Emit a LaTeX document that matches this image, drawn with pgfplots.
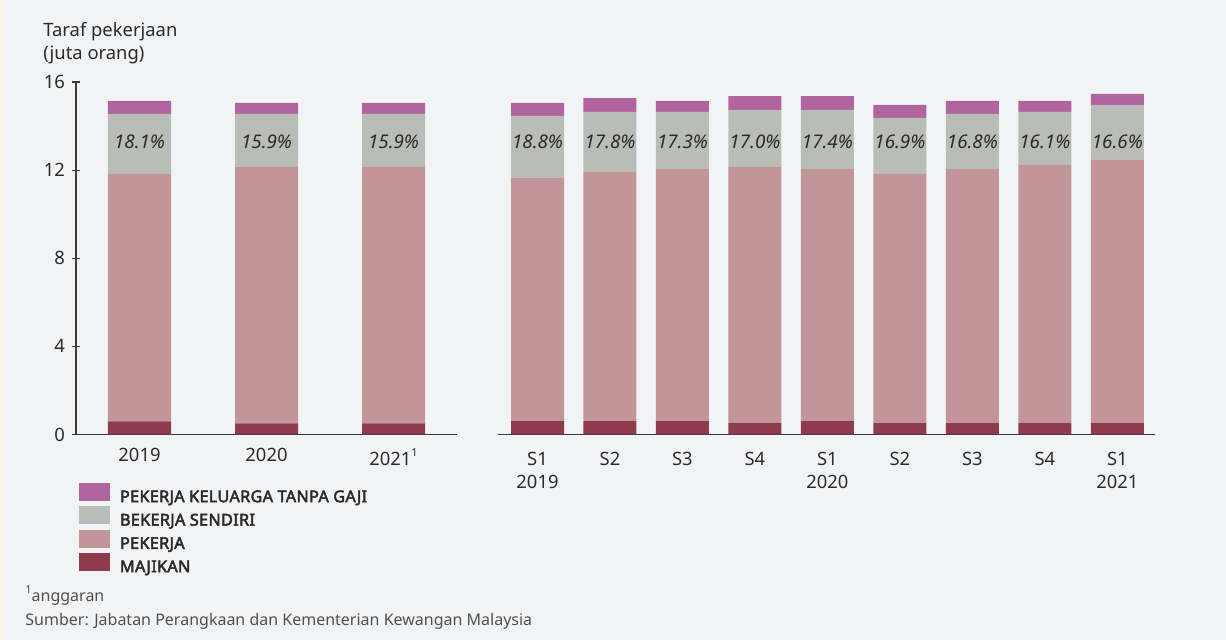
\documentclass[border=0pt]{standalone}
\usepackage{fontspec}
\setmainfont{Noto Sans}
\newfontfamily\legfont{Noto Sans}[FakeBold=3,LetterSpace=2]
\usepackage{pgfplots}
\pgfplotsset{compat=1.18}
\definecolor{bg}{HTML}{F2F3F5}
\definecolor{peach}{HTML}{FCF1EB}
\definecolor{kel}{HTML}{B0659F}
\definecolor{sen}{HTML}{BABCB8}
\definecolor{pek}{HTML}{C29698}
\definecolor{maj}{HTML}{8E3B4E}
\definecolor{txt}{HTML}{2B2B2B}
\definecolor{axl}{HTML}{3A3A3A}
\definecolor{foot}{HTML}{505050}
\tikzset{pct/.style={font=\itshape\fontsize{9.4}{11}\selectfont, text=txt, inner sep=0pt}}
\newcommand{\supn}[1]{\raisebox{0.9ex}{\fontsize{5.5}{6}\selectfont #1}}
\newcommand{\leg}[1]{{\legfont\fontsize{8.1}{9}\selectfont #1}}
\begin{document}
\begin{tikzpicture}
\fill[bg] (0,0) rectangle (613pt,320pt);
\fill[peach] (0,0) rectangle (2.5pt,320pt);
\pgfplotsset{
  common/.style={
    scale only axis, anchor=south west,
    ymin=0, ymax=16,
    ybar stacked,
    axis line style={axl, line width=0.6pt, -},
    major x tick style={draw=none},
    tick label style={font=\fontsize{9.2}{11.2}\selectfont, text=txt},
    /pgf/number format/assume math mode=true,
    clip=false,
  },
}
\node[anchor=north west, align=left, inner sep=0pt, font=\fontsize{9.2}{11.5}\selectfont, text=txt] at (21.5pt,309pt) {Taraf pekerjaan\\(juta orang)};
\begin{axis}[common,
  at={(38pt,102.75pt)}, width=190.5pt, height=176.25pt,
  xmin=-0.5, xmax=2.5, bar width=31.5pt,
  axis x line*=bottom, axis y line*=left,
  xtick={0,1,2}, xticklabels={2019,2020,2021\supn{1}},
  xticklabel style={yshift=-1.5pt},
  ytick={0,4,8,12,16},
  tick align=center, major tick length=4pt,
  major y tick style={axl, line width=0.6pt},
  legend style={at={(0.0079,-0.1376)}, anchor=north west, draw=none, fill=none,
    inner sep=0pt, outer sep=0pt, row sep=0.6pt, column sep=5pt,
    text=txt, nodes={inner sep=0pt}},
  legend cell align=left,
  reverse legend,
  legend image code/.code={\fill[#1] (0pt,-1.6pt) rectangle (15.5pt,7.4pt);},
]
\addplot[fill=maj, draw=none] coordinates {(0,0.59) (1,0.50) (2,0.50)};
\addlegendentry{\leg{MAJIKAN}}
\addplot[fill=pek, draw=none] coordinates {(0,11.24) (1,11.65) (2,11.65)};
\addlegendentry{\leg{PEKERJA}}
\addplot[fill=sen, draw=none] coordinates {(0,2.72) (1,2.40) (2,2.40)};
\addlegendentry{\leg{BEKERJA SENDIRI}}
\addplot[fill=kel, draw=none] coordinates {(0,0.59) (1,0.50) (2,0.50)};
\addlegendentry{\leg{PEKERJA KELUARGA TANPA GAJI}}
\coordinate (a0) at (axis cs:0,13.28);
\coordinate (a1) at (axis cs:1,13.28);
\coordinate (a2) at (axis cs:2,13.28);
\end{axis}
\begin{axis}[common,
  at={(249pt,102.75pt)}, width=328.5pt, height=176.25pt,
  xmin=-0.545, xmax=8.52, bar width=26.5pt,
  axis x line*=bottom, axis y line=none,
  xtick={0,1,2,3,4,5,6,7,8},
  xticklabels={S1\\2019,S2,S3,S4,S1\\2020,S2,S3,S4,S1\\2021},
  xticklabel style={anchor=north, align=center, yshift=-5.5pt},
]
\addplot[fill=maj, draw=none] coordinates {(0,0.61) (1,0.61) (2,0.61) (3,0.52) (4,0.61) (5,0.52) (6,0.52) (7,0.52) (8,0.52)};
\addplot[fill=pek, draw=none] coordinates {(0,11.03) (1,11.31) (2,11.44) (3,11.62) (4,11.44) (5,11.31) (6,11.53) (7,11.71) (8,11.94)};
\addplot[fill=sen, draw=none] coordinates {(0,2.82) (1,2.72) (2,2.59) (3,2.59) (4,2.68) (5,2.54) (6,2.50) (7,2.41) (8,2.50)};
\addplot[fill=kel, draw=none] coordinates {(0,0.59) (1,0.63) (2,0.50) (3,0.63) (4,0.63) (5,0.59) (6,0.59) (7,0.50) (8,0.50)};
\coordinate (b0) at (axis cs:0,13.28);
\coordinate (b1) at (axis cs:1,13.28);
\coordinate (b2) at (axis cs:2,13.28);
\coordinate (b3) at (axis cs:3,13.28);
\coordinate (b4) at (axis cs:4,13.28);
\coordinate (b5) at (axis cs:5,13.28);
\coordinate (b6) at (axis cs:6,13.28);
\coordinate (b7) at (axis cs:7,13.28);
\coordinate (b8) at (axis cs:8,13.28);
\end{axis}
\node[pct] at (a0) {18.1\%};
\node[pct] at (a1) {15.9\%};
\node[pct] at (a2) {15.9\%};
\node[pct] at (b0) {18.8\%};
\node[pct] at (b1) {17.8\%};
\node[pct] at (b2) {17.3\%};
\node[pct] at (b3) {17.0\%};
\node[pct] at (b4) {17.4\%};
\node[pct] at (b5) {16.9\%};
\node[pct] at (b6) {16.8\%};
\node[pct] at (b7) {16.1\%};
\node[pct] at (b8) {16.6\%};
\node[anchor=base west, inner sep=0pt, font=\fontsize{8}{9.6}\selectfont, text=foot] at (12.5pt,19.25pt) {\supn{1}anggaran};
\node[anchor=base west, inner sep=0pt, font=\fontsize{8}{9.6}\selectfont, text=foot] at (12.5pt,7pt) {Sumber: Jabatan Perangkaan dan Kementerian Kewangan Malaysia};
\end{tikzpicture}
\end{document}
